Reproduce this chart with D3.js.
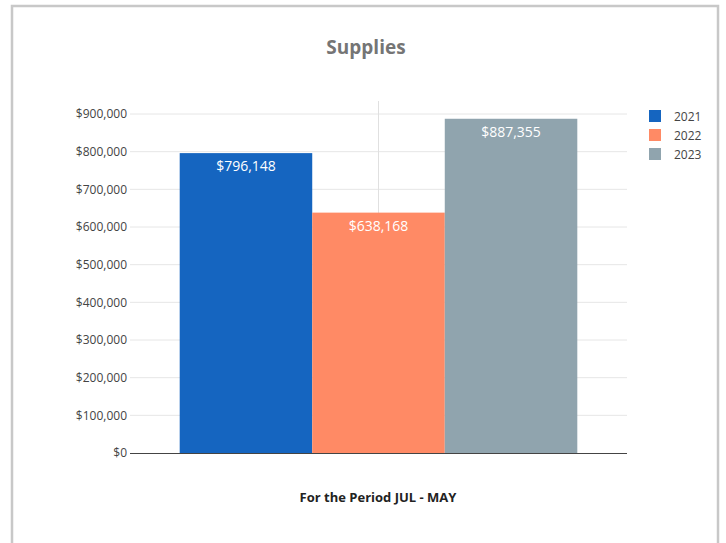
<!DOCTYPE html>
<html><head><meta charset="utf-8">
<script src="https://cdn.jsdelivr.net/npm/d3@7"></script>
<style>body{margin:0;background:#fff;}svg{display:block;font-family:"Open Sans",sans-serif;}</style>
</head><body>
<svg id="c" width="726" height="543"></svg>
<script>
const title = "Supplies";
const xTitle = "For the Period JUL - MAY";
const series = ["2021", "2022", "2023"];
const values = [796148, 638168, 887355];
const colors = ["#1565C0", "#FF8A65", "#90A4AE"];
const yTicks = [0, 100000, 200000, 300000, 400000, 500000, 600000, 700000, 800000, 900000];

(function(){
const svg = d3.select("#c");
// frame
svg.append("rect").attr("x", 12).attr("y", 6).attr("width", 706).attr("height", 560)
  .attr("fill", "#fff").attr("stroke", "#c8c8c8").attr("stroke-width", 2.5);

const pLeft = 130, pRight = 627, pTop = 101, pBottom = 453;
const y = d3.scaleLinear().domain([0, 900000]).range([pBottom, 114]);
const inner = d3.scaleBand().domain(series).range([pLeft + (pRight-pLeft)*0.1, pRight - (pRight-pLeft)*0.1]);

const fmt = d => "$" + d3.format(",")(d);

// gridlines
svg.append("g").selectAll("line").data(yTicks.filter(d => d > 0)).join("line")
  .attr("x1", pLeft).attr("x2", pRight).attr("y1", d => y(d)).attr("y2", d => y(d))
  .attr("stroke", "#e6e6e6").attr("stroke-width", 1);
svg.append("line").attr("x1", (pLeft+pRight)/2).attr("x2", (pLeft+pRight)/2).attr("y1", pTop).attr("y2", pBottom)
  .attr("stroke", "#e0e0e0").attr("stroke-width", 1);

// y axis labels
const yAxis = d3.axisLeft(y).tickValues(yTicks).tickFormat(fmt).tickSize(0).tickPadding(3);
const ga = svg.append("g").attr("transform", `translate(${pLeft},0)`).call(yAxis);
ga.select(".domain").remove();
ga.selectAll("text").attr("fill", "#444").style("font-size", "12px").style("font-family", "'Open Sans',sans-serif");

// bars
svg.append("g").selectAll("rect").data(series).join("rect")
  .attr("x", d => inner(d)).attr("width", inner.bandwidth())
  .attr("y", (d,i) => y(values[i])).attr("height", (d,i) => pBottom - y(values[i]))
  .attr("fill", (d,i) => colors[i]);

// value labels
svg.append("g").selectAll("text").data(series).join("text")
  .attr("x", d => inner(d) + inner.bandwidth()/2)
  .attr("y", (d,i) => y(values[i]) + 18)
  .attr("text-anchor", "middle").attr("fill", "#fff").style("font-size", "14px")
  .text((d,i) => fmt(values[i]));

// baseline
svg.append("line").attr("x1", pLeft).attr("x2", pRight).attr("y1", pBottom + 0.5).attr("y2", pBottom + 0.5)
  .attr("stroke", "#444").attr("stroke-width", 1.2);

// title
svg.append("text").attr("x", 366).attr("y", 54).attr("text-anchor", "middle")
  .attr("fill", "#757575").style("font-size", "19px").style("font-weight", "bold").text(title);

// x title
svg.append("text").attr("x", 378).attr("y", 502).attr("text-anchor", "middle")
  .attr("fill", "#222").style("font-size", "13px").style("font-weight", "bold").text(xTitle);

// legend
const lg = svg.append("g").selectAll("g").data(series).join("g")
  .attr("transform", (d,i) => `translate(649,${110 + i*19})`);
lg.append("rect").attr("width", 12).attr("height", 12).attr("fill", (d,i) => colors[i]);
lg.append("text").attr("x", 25).attr("y", 10.5).attr("fill", "#444").style("font-size", "12px").text(d => d);
})();
</script>
</body></html>
